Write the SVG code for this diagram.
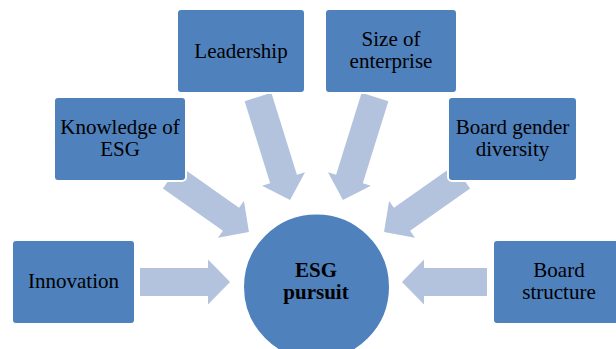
<svg xmlns="http://www.w3.org/2000/svg" width="616" height="349" viewBox="0 0 616 349">
<style>
.box{fill:#4F81BD;stroke:#FFFFFF;stroke-width:2}
.arr{fill:#B3C3DE}
.t{font-family:"Liberation Serif","Times New Roman",serif;font-size:21px;fill:#000000;text-anchor:middle}
.b{font-weight:bold}
</style>
<rect width="616" height="349" fill="#FFFFFF"/>
<g id="connectors">
<polygon class="arr" points="0,-14 68,-14 68,-22.5 90,0 68,22.5 68,14 0,14" transform="translate(140,282)"/>
<polygon class="arr" points="0,-14 63,-14 63,-22.5 85,0 63,22.5 63,14 0,14" transform="translate(487,282) rotate(180)"/>
<polygon class="arr" points="0,-14 73.4,-14 73.4,-22.5 95.4,0 73.4,22.5 73.4,14 0,14" transform="translate(171,177) rotate(35.2)"/>
<polygon class="arr" points="0,-14 73.4,-14 73.4,-22.5 95.4,0 73.4,22.5 73.4,14 0,14" transform="translate(462,177) rotate(144.8)"/>
<polygon class="arr" points="0,-14 85.9,-14 85.9,-22.5 107.9,0 85.9,22.5 85.9,14 0,14" transform="translate(258,97) rotate(72.7)"/>
<polygon class="arr" points="0,-14 85.9,-14 85.9,-22.5 107.9,0 85.9,22.5 85.9,14 0,14" transform="translate(375,97) rotate(107.3)"/>
</g>
<g id="innovation">
<rect class="box" x="12" y="240" width="123" height="84" rx="4"/>
<text class="t" x="73.5" y="288">Innovation</text>
</g>
<g id="knowledge">
<rect class="box" x="54" y="97" width="132" height="84" rx="4"/>
<text class="t" x="120" y="134">Knowledge of</text>
<text class="t" x="120" y="156">ESG</text>
</g>
<g id="leadership">
<rect class="box" x="177" y="9" width="128" height="84" rx="4"/>
<text class="t" x="241" y="58">Leadership</text>
</g>
<g id="size">
<rect class="box" x="325" y="9" width="132" height="84" rx="4"/>
<text class="t" x="391" y="46">Size of</text>
<text class="t" x="391" y="68">enterprise</text>
</g>
<g id="gender">
<rect class="box" x="448" y="97" width="129" height="84" rx="4"/>
<text class="t" x="512.5" y="134">Board gender</text>
<text class="t" x="512.5" y="156">diversity</text>
</g>
<g id="structure">
<rect class="box" x="493" y="240" width="132" height="84" rx="4"/>
<text class="t" x="559" y="277">Board</text>
<text class="t" x="559" y="299">structure</text>
</g>
<g id="esg">
<circle class="box" cx="316.5" cy="287" r="73.5"/>
<text class="t b" x="316" y="277">ESG</text>
<text class="t b" x="316" y="299">pursuit</text>
</g>
</svg>
